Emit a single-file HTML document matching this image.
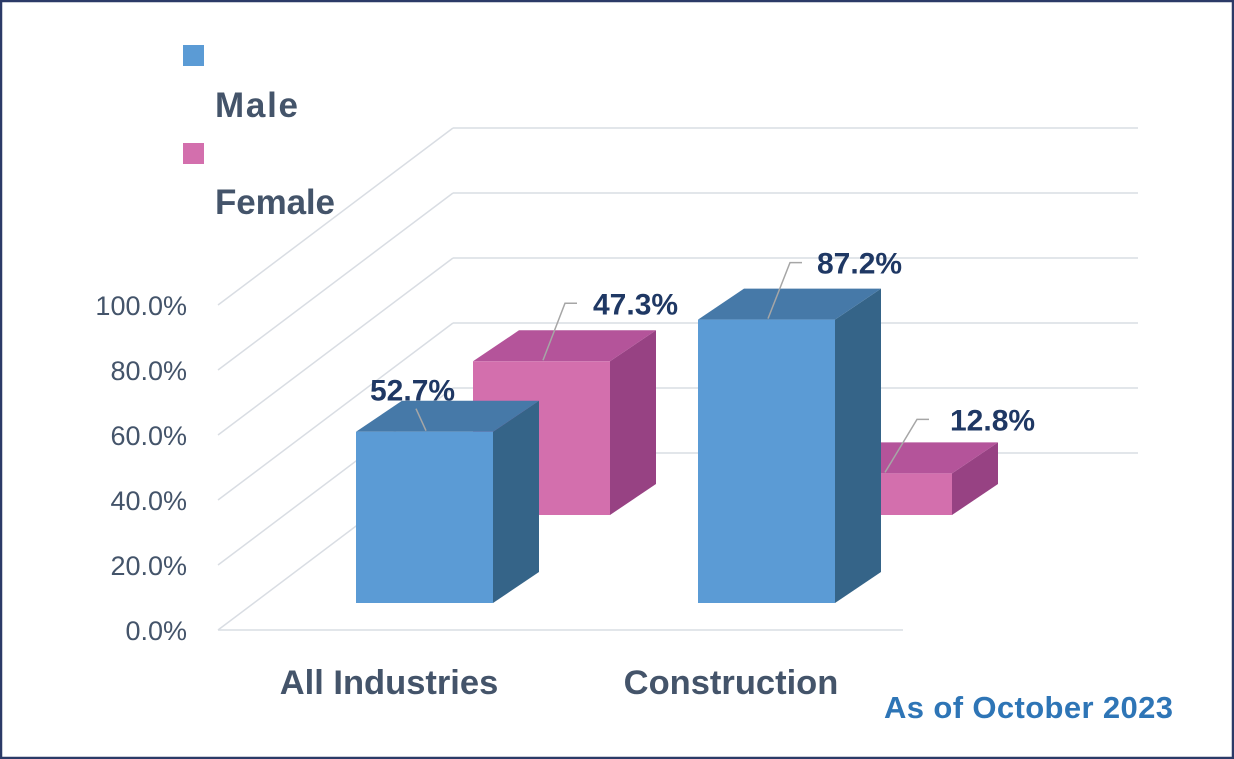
<!DOCTYPE html>
<html><head><meta charset="utf-8">
<style>
html,body{margin:0;padding:0;background:#fff;}
#wrap{position:relative;width:1234px;height:759px;overflow:hidden;}
svg{position:absolute;left:0;top:0;}
text{font-family:"Liberation Sans",Arial,sans-serif;}
</style></head>
<body>
<div id="wrap">
<svg id="chart" width="1234" height="759" viewBox="0 0 1234 759">
  <rect x="1" y="1" width="1232" height="757" fill="#fff" stroke="#2b3a67" stroke-width="2.5"/>
  <g id="grid"></g>
  <g id="ticks"></g>
  <g id="bars"></g>
  <g id="labels"></g>
  <g id="cats"></g>
  <g>
    <rect x="183" y="45" width="21" height="21" fill="#5b9bd5"/>
    <text x="215" y="117" font-size="35" font-weight="bold" fill="#44546a" textLength="83">Male</text>
    <rect x="183" y="143" width="21" height="21" fill="#d36fad"/>
    <text x="215" y="214" font-size="35" font-weight="bold" fill="#44546a" textLength="120">Female</text>
  </g>
  <text x="1173" y="718" text-anchor="end" font-size="31" font-weight="bold" fill="#2e75b6" textLength="289">As of October 2023</text>
</svg>
</div>
<script>
const categories = ["All Industries", "Construction"];
const maleValues = [52.7, 87.2];
const femaleValues = [47.3, 12.8];
const tickValues = [0, 20, 40, 60, 80, 100];
const tickLabels = ["0.0%", "20.0%", "40.0%", "60.0%", "80.0%", "100.0%"];

const NS = "http://www.w3.org/2000/svg";
function mk(tag, attrs, parent){
  const e = document.createElementNS(NS, tag);
  for (const k in attrs) e.setAttribute(k, attrs[k]);
  parent.appendChild(e);
  return e;
}
const PX = 3.25;
const frontBase = 630, frontX0 = 218, frontX1 = 903, backDX = 235, backDY = -177;
function yScale(v, base){ return base - v * PX; }

const grid = document.getElementById('grid');
const ticks = document.getElementById('ticks');
tickValues.forEach((t, i) => {
  const yf = yScale(t, frontBase);
  const yb = yf + backDY;
  let l = mk('line', {x1: frontX0 + backDX, y1: yb, x2: frontX1 + backDX, y2: yb, stroke: '#d9dde3', 'stroke-width': 1.5}, grid);
  
  
  let d = mk('line', {x1: frontX0, y1: yf, x2: frontX0 + backDX, y2: yb, stroke: '#d9dde3', 'stroke-width': 1.5}, grid);
  
  
  const tx = mk('text', {x: 187, y: yf + 10, 'text-anchor': 'end', 'font-size': 27, fill: '#44546a'}, ticks);
  tx.textContent = tickLabels[i];
  
  
});
let fl = mk('line', {x1: frontX0, y1: frontBase, x2: frontX1, y2: frontBase, stroke: '#d9dde3', 'stroke-width': 1.5}, grid);



const bars = document.getElementById('bars');
const labels = document.getElementById('labels');
const W = 137, DX = 46, DY = -31, STEP = 342;
function bar(x, base, v, cols, name, lab){
  const g = mk('g', {}, bars);
  
  
  const top = yScale(v, base);
  mk('polygon', {points: `${x+W},${top} ${x+W+DX},${top+DY} ${x+W+DX},${base+DY} ${x+W},${base}`, fill: cols[2]}, g);
  mk('polygon', {points: `${x},${top} ${x+DX},${top+DY} ${x+W+DX},${top+DY} ${x+W},${top}`, fill: cols[1]}, g);
  mk('rect', {x: x, y: top, width: W, height: base - top, fill: cols[0]}, g);
  const sx = x + 70, sy = top - 1;
  const ex = sx + lab[0], ey = sy + lab[1];
  const pl = mk('polyline', {points: `${sx},${sy} ${ex},${ey} ${ex+lab[2]},${ey}`, fill: 'none', stroke: '#a6a6a6', 'stroke-width': 1.5}, labels);
  
  
  const t = mk('text', {x: ex + lab[2] + lab[3], y: ey + lab[4], 'font-size': 30, 'font-weight': 'bold', fill: '#1f3864'}, labels);
  t.textContent = v.toFixed(1) + '%';
  
  
}
const blue = ['#5b9bd5', '#4679a8', '#356488'];
const pink = ['#d36fad', '#b4549a', '#974283'];
categories.forEach((c, i) => {
  bar(473 + i * STEP, 515, femaleValues[i], pink, 'bar-female-' + i,
      i === 0 ? [22, -57, 12, 16, 11] : [32, -53, 12, 21, 11]);
});
categories.forEach((c, i) => {
  bar(356 + i * STEP, 603, maleValues[i], blue, 'bar-male-' + i,
      i === 0 ? [-10, -22, 0, -46, -8] : [22, -56, 12, 15, 11]);
});
const cats = document.getElementById('cats');
categories.forEach((c, i) => {
  const t = mk('text', {x: 389 + i * STEP, y: 694, 'text-anchor': 'middle', 'font-size': 34.5, 'font-weight': 'bold', fill: '#44546a'}, cats);
  t.textContent = c;
  
  
});
</script>
</body></html>
